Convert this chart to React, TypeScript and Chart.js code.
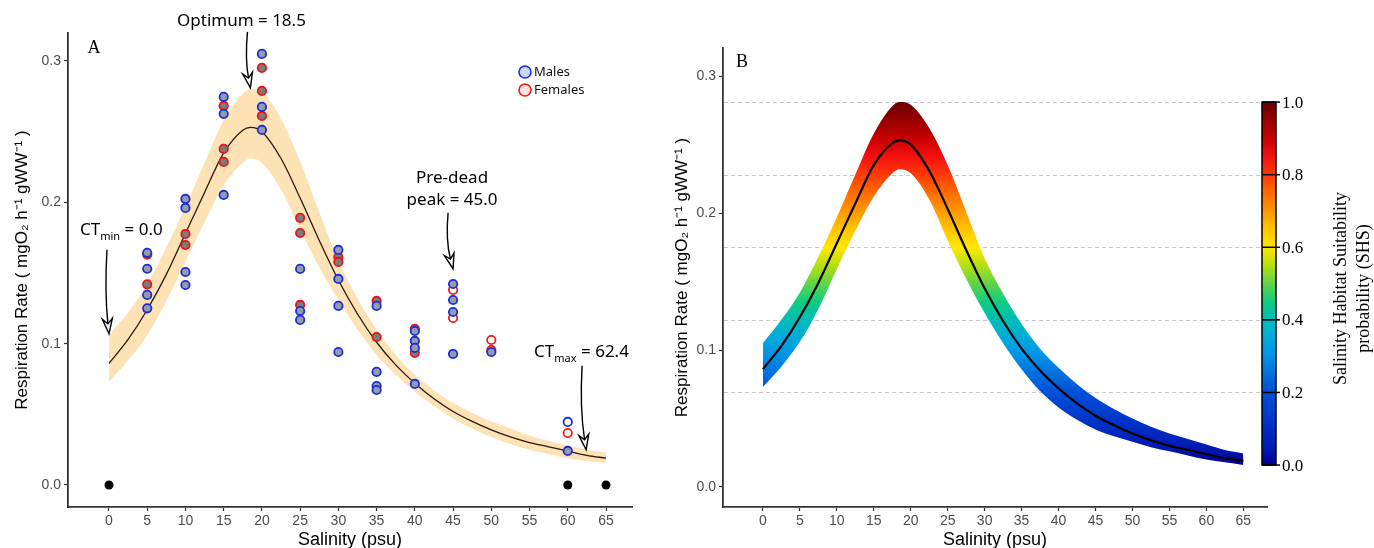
import React, { useEffect, useRef } from 'react';
import { Chart, registerables } from 'chart.js';

Chart.register(...registerables);

// ---------------- data ----------------
const salinityGrid = [0, 2.5, 5, 7.5, 10, 12.5, 15, 17.5, 18.5, 20, 22.5, 25, 27.5, 30, 32.5, 35, 37.5, 40, 42.5, 45, 47.5, 50, 52.5, 55, 57.5, 60, 62.5, 65];
const fitRate = [0.086, 0.103, 0.124, 0.149, 0.178, 0.207, 0.235, 0.251, 0.253, 0.25, 0.231, 0.203, 0.173, 0.145, 0.121, 0.101, 0.085, 0.072, 0.061, 0.052, 0.045, 0.039, 0.034, 0.03, 0.027, 0.024, 0.021, 0.019];
// panel A confidence band
const fitUpper = [0.106, 0.122, 0.142, 0.168, 0.197, 0.228, 0.258, 0.277, 0.28, 0.278, 0.259, 0.229, 0.193, 0.159, 0.132, 0.11, 0.092, 0.078, 0.067, 0.058, 0.051, 0.045, 0.04, 0.035, 0.031, 0.028, 0.025, 0.023];
const fitLower = [0.073, 0.088, 0.106, 0.13, 0.158, 0.186, 0.212, 0.228, 0.231, 0.228, 0.209, 0.181, 0.154, 0.131, 0.11, 0.092, 0.078, 0.066, 0.056, 0.047, 0.04, 0.034, 0.029, 0.025, 0.022, 0.019, 0.017, 0.0155];
// panel B suitability band
const shsUpper = [0.105, 0.122, 0.142, 0.168, 0.197, 0.228, 0.258, 0.278, 0.281, 0.279, 0.262, 0.235, 0.201, 0.167, 0.141, 0.119, 0.101, 0.087, 0.075, 0.065, 0.057, 0.05, 0.044, 0.039, 0.035, 0.031, 0.027, 0.0245];
const shsLower = [0.073, 0.088, 0.106, 0.13, 0.159, 0.187, 0.212, 0.229, 0.232, 0.229, 0.21, 0.18, 0.152, 0.127, 0.105, 0.086, 0.07, 0.058, 0.049, 0.042, 0.037, 0.033, 0.029, 0.026, 0.023, 0.02, 0.018, 0.016];

const maleSalinity = [5, 5, 5, 5, 10, 10, 10, 10, 15, 15, 15, 20, 20, 20, 25, 25, 25, 30, 30, 30, 30, 35, 35, 35, 35, 40, 40, 40, 40, 45, 45, 45, 45, 50, 60];
const maleRate = [0.1643, 0.153, 0.1345, 0.125, 0.2024, 0.196, 0.1507, 0.1415, 0.2746, 0.2626, 0.2052, 0.305, 0.2675, 0.2512, 0.1529, 0.1231, 0.1168, 0.1663, 0.1458, 0.1267, 0.0941, 0.1267, 0.08, 0.07, 0.0672, 0.109, 0.1019, 0.097, 0.0715, 0.1422, 0.1309, 0.1224, 0.0927, 0.0941, 0.0241];
const maleOpenSalinity = [60];
const maleOpenRate = [0.0446];

const femaleSalinity = [5, 5, 10, 10, 15, 15, 15, 20, 20, 20, 25, 25, 25, 30, 30, 35, 35, 40, 40];
const femaleRate = [0.163, 0.142, 0.1776, 0.1698, 0.2682, 0.2378, 0.2286, 0.2951, 0.2788, 0.2611, 0.189, 0.1783, 0.1274, 0.1614, 0.1578, 0.1302, 0.1047, 0.1104, 0.0934];
const femaleOpenSalinity = [45, 45, 50, 50, 60];
const femaleOpenRate = [0.138, 0.1182, 0.1026, 0.0955, 0.0368];

const deadSalinity = [0, 60, 65];
const deadRate = [0, 0, 0];

const xTickValues = [0, 5, 10, 15, 20, 25, 30, 35, 40, 45, 50, 55, 60, 65];
const yTickValues = [0, 0.1, 0.2, 0.3];
const shsTickValues = [0, 0.2, 0.4, 0.6, 0.8, 1.0];
const shsGridValues = [0.2, 0.4, 0.6, 0.8, 1.0];

const noteSalinity = [18.5, 0, 45, 62.4];
const noteRate = [0.281, 0.107, 0.153, 0.025];

// ---------------- styles ----------------
const FONT_SANS = '"Liberation Sans", Arial, sans-serif';
const FONT_NOTE = '"Noto Sans", "Open Sans", sans-serif';
const FONT_SERIF = '"Liberation Serif", "Times New Roman", serif';
const AXIS = '#333333';
const TICK_TEXT = '#4d4d4d';
const Y_TITLE = 'Respiration Rate ( mgO\u2082 h\u207B\u00B9 gWW\u207B\u00B9 )';

const jetStops: [number, string][] = [
  [0.0, '#00008f'],
  [0.04, '#0016b0'],
  [0.1, '#002cc4'],
  [0.2, '#0050d8'],
  [0.25, '#006ede'],
  [0.3, '#0092e6'],
  [0.35, '#00aadc'],
  [0.4, '#00bdb8'],
  [0.45, '#10cc80'],
  [0.5, '#60d448'],
  [0.55, '#b4e010'],
  [0.6, '#ffe600'],
  [0.65, '#ffc400'],
  [0.7, '#ff9800'],
  [0.75, '#ff6c00'],
  [0.8, '#ff3a0a'],
  [0.85, '#f41010'],
  [0.9, '#c80000'],
  [1.0, '#6a0000'],
];

const pts = (xs: number[], ys: number[]) => xs.map((x, i) => ({ x, y: ys[i] }));

function xScale(min: number, max: number) {
  return {
    type: 'linear' as const,
    min,
    max,
    afterBuildTicks: (s: any) => {
      s.ticks = xTickValues.map((v) => ({ value: v }));
    },
    afterFit: (s: any) => {
      s.height = 41;
    },
    grid: { drawOnChartArea: false, drawTicks: true, tickLength: 4, tickColor: AXIS, tickWidth: 1.2 },
    border: { display: true, color: AXIS, width: 1.8 },
    ticks: {
      color: TICK_TEXT,
      font: { family: FONT_SANS, size: 14 },
      padding: 2,
      maxRotation: 0,
      autoSkip: false,
      callback: (v: any) => String(v),
    },
    title: {
      display: true,
      text: 'Salinity (psu)',
      color: '#000',
      font: { family: FONT_SANS, size: 18 },
      padding: { top: 0, bottom: -3 },
    },
  };
}

function yScale(min: number, max: number, width: number) {
  return {
    type: 'linear' as const,
    min,
    max,
    afterBuildTicks: (s: any) => {
      s.ticks = yTickValues.map((v) => ({ value: v }));
    },
    afterFit: (s: any) => {
      s.width = width;
    },
    grid: { drawOnChartArea: false, drawTicks: true, tickLength: 4, tickColor: AXIS, tickWidth: 1.2 },
    border: { display: true, color: AXIS, width: 1.8 },
    ticks: {
      color: TICK_TEXT,
      font: { family: FONT_SANS, size: 14 },
      padding: 3,
      callback: (v: any) => Number(v).toFixed(1),
    },
    title: {
      display: true,
      text: Y_TITLE,
      color: '#000',
      font: { family: FONT_SANS, size: 17 },
      padding: { top: 12, bottom: 0 },
    },
  };
}

function drawArrow(ctx: CanvasRenderingContext2D, sx: number, sy: number, tx: number, ty: number) {
  const cx = sx - 2.5;
  const cy = (sy + ty) / 2;
  const ang = Math.atan2(ty - cy, tx - cx);
  const L = 15;
  const W = 5;
  const N = 10;
  const ux = Math.cos(ang);
  const uy = Math.sin(ang);
  const px = -uy;
  const py = ux;
  const bx = tx - ux * N;
  const by = ty - uy * N;
  ctx.save();
  ctx.strokeStyle = '#000';
  ctx.lineWidth = 1.4;
  ctx.beginPath();
  ctx.moveTo(sx, sy);
  ctx.quadraticCurveTo(cx, cy, bx, by);
  ctx.stroke();
  ctx.beginPath();
  ctx.moveTo(tx, ty);
  ctx.lineTo(tx - ux * L + px * W, ty - uy * L + py * W);
  ctx.lineTo(bx, by);
  ctx.lineTo(tx - ux * L - px * W, ty - uy * L - py * W);
  ctx.closePath();
  ctx.fillStyle = '#fff';
  ctx.fill();
  ctx.stroke();
  ctx.restore();
}

function drawSubText(ctx: CanvasRenderingContext2D, x: number, base: number, main: string, sub: string, rest: string) {
  ctx.textAlign = 'left';
  ctx.textBaseline = 'alphabetic';
  ctx.font = `17px ${FONT_NOTE}`;
  ctx.fillText(main, x, base);
  let w = ctx.measureText(main).width;
  ctx.font = `11px ${FONT_NOTE}`;
  ctx.fillText(sub, x + w, base + 5);
  w += ctx.measureText(sub).width;
  ctx.font = `17px ${FONT_NOTE}`;
  ctx.fillText(rest, x + w, base);
}

const annotationsPlugin = {
  id: 'annotA',
  afterDatasetsDraw(chart: any) {
    const { ctx, scales, chartArea } = chart;
    const tip = (i: number) => ({ x: scales.x.getPixelForValue(noteSalinity[i]), y: scales.y.getPixelForValue(noteRate[i]) });
    ctx.save();
    ctx.fillStyle = '#000';
    // Optimum
    let t = tip(0);
    drawArrow(ctx, t.x - 3, t.y - 56, t.x, t.y);
    ctx.font = `17px ${FONT_NOTE}`;
    ctx.textAlign = 'center';
    ctx.textBaseline = 'alphabetic';
    ctx.fillText('Optimum = 18.5', t.x - 9, t.y - 62);
    // CTmin
    t = tip(1);
    drawArrow(ctx, t.x - 2, t.y - 84, t.x, t.y);
    drawSubText(ctx, t.x - 29, t.y - 99, 'CT', 'min', ' = 0.0');
    // Pre-dead peak
    t = tip(2);
    drawArrow(ctx, t.x - 5, t.y - 56, t.x, t.y);
    ctx.font = `17px ${FONT_NOTE}`;
    ctx.textAlign = 'center';
    ctx.fillText('Pre-dead', t.x - 1, t.y - 86);
    ctx.fillText('peak = 45.0', t.x - 1, t.y - 64);
    // CTmax
    t = tip(3);
    drawArrow(ctx, t.x - 4, t.y - 84, t.x, t.y);
    drawSubText(ctx, t.x - 52, t.y - 93, 'CT', 'max', ' = 62.4');

    // panel letter
    ctx.font = `18px ${FONT_SERIF}`;
    ctx.textAlign = 'center';
    ctx.textBaseline = 'middle';
    ctx.fillText('A', chartArea.left + 26, chartArea.top + 15);

    // legend
    const lx = chartArea.right - 107;
    const items = [
      { label: 'Males', stroke: '#1a2fd6', fill: '#c9d8f2', y: chartArea.top + 39 },
      { label: 'Females', stroke: '#ee1c1c', fill: '#fde0d8', y: chartArea.top + 57 },
    ];
    items.forEach((it) => {
      ctx.beginPath();
      ctx.arc(lx, it.y, 6, 0, Math.PI * 2);
      ctx.fillStyle = it.fill;
      ctx.fill();
      ctx.lineWidth = 1.6;
      ctx.strokeStyle = it.stroke;
      ctx.stroke();
      ctx.fillStyle = '#111';
      ctx.font = `13px ${FONT_NOTE}`;
      ctx.textAlign = 'left';
      ctx.textBaseline = 'middle';
      ctx.fillText(it.label, lx + 9, it.y + 0.5);
    });
    ctx.restore();
  },
};

const shsMin = Math.min(...shsLower);
const shsMax = Math.max(...shsUpper);
const shsToRate = (s: number) => shsMin + s * (shsMax - shsMin);

function makeJet(ctx: CanvasRenderingContext2D, yBottom: number, yTop: number) {
  const g = ctx.createLinearGradient(0, yBottom, 0, yTop);
  jetStops.forEach(([s, c]) => g.addColorStop(s, c));
  return g;
}

const gridBPlugin = {
  id: 'gridB',
  beforeDatasetsDraw(chart: any) {
    const { ctx, scales, chartArea } = chart;
    ctx.save();
    ctx.strokeStyle = '#c8c8c8';
    ctx.lineWidth = 1;
    ctx.setLineDash([4, 3]);
    shsGridValues.forEach((s) => {
      const y = Math.round(scales.y.getPixelForValue(shsToRate(s))) + 0.5;
      ctx.beginPath();
      ctx.moveTo(chartArea.left + 1, y);
      ctx.lineTo(chartArea.right - 5, y);
      ctx.stroke();
    });
    ctx.restore();
  },
  afterDatasetsDraw(chart: any) {
    const { ctx, scales, chartArea } = chart;
    const x0 = chartArea.right - 5;
    const w = 14;
    const yTop = scales.y.getPixelForValue(shsMax);
    const yBot = scales.y.getPixelForValue(shsMin);
    ctx.save();
    ctx.fillStyle = makeJet(ctx, yBot, yTop);
    ctx.fillRect(x0, yTop, w, yBot - yTop);
    ctx.strokeStyle = '#000';
    ctx.lineWidth = 1.5;
    ctx.strokeRect(x0, yTop, w, yBot - yTop);
    ctx.font = `17px ${FONT_SERIF}`;
    ctx.fillStyle = '#000';
    ctx.textAlign = 'left';
    ctx.textBaseline = 'middle';
    shsTickValues.forEach((s) => {
      const y = scales.y.getPixelForValue(shsToRate(s));
      ctx.beginPath();
      ctx.moveTo(x0, y);
      ctx.lineTo(x0 + w + 4, y);
      ctx.stroke();
      ctx.fillText(s.toFixed(1), x0 + w + 6, y + 1);
    });
    // colorbar title
    const cy = (yTop + yBot) / 2 + 5;
    ctx.save();
    ctx.translate(x0 + 90, cy);
    ctx.rotate(-Math.PI / 2);
    ctx.textAlign = 'center';
    ctx.textBaseline = 'middle';
    ctx.font = `18px ${FONT_SERIF}`;
    ctx.fillText('Salinity Habitat Suitability', 0, -11);
    ctx.fillText('probability (SHS)', 0, 12);
    ctx.restore();

    ctx.font = `18px ${FONT_SERIF}`;
    ctx.textAlign = 'center';
    ctx.textBaseline = 'middle';
    ctx.fillText('B', chartArea.left + 19, chartArea.top + 14);
    ctx.restore();
  },
};

function PanelA() {
  const ref = useRef<HTMLCanvasElement>(null);
  useEffect(() => {
    if (!ref.current) return;
    const pointCommon = { type: 'scatter' as const, pointRadius: 4.2, pointBorderWidth: 1.8, showLine: false };
    const chart = new Chart(ref.current, {
      type: 'scatter',
      data: {
        datasets: [
          {
            type: 'line',
            data: pts(salinityGrid, fitUpper),
            fill: 1,
            backgroundColor: '#fde2b6',
            borderWidth: 0,
            pointRadius: 0,
            cubicInterpolationMode: 'monotone',
            order: 20,
          },
          {
            type: 'line',
            data: pts(salinityGrid, fitLower),
            fill: false,
            borderWidth: 0,
            pointRadius: 0,
            cubicInterpolationMode: 'monotone',
            order: 21,
          },
          {
            type: 'line',
            data: pts(salinityGrid, fitRate),
            fill: false,
            borderColor: '#2a1a0c',
            borderWidth: 1.3,
            pointRadius: 0,
            cubicInterpolationMode: 'monotone',
            order: 10,
          },
          { ...pointCommon, data: pts(femaleOpenSalinity, femaleOpenRate), borderColor: '#ee1c1c', backgroundColor: '#ffffff', order: 4 },
          { ...pointCommon, data: pts(femaleSalinity, femaleRate), borderColor: '#e8141a', backgroundColor: '#7b7b7b', order: 3 },
          { ...pointCommon, data: pts(maleOpenSalinity, maleOpenRate), borderColor: '#1a2fd6', backgroundColor: '#ffffff', order: 2 },
          { ...pointCommon, data: pts(maleSalinity, maleRate), borderColor: '#1a2fd6', backgroundColor: '#959aac', order: 1 },
          { ...pointCommon, data: pts(deadSalinity, deadRate), borderColor: '#000', backgroundColor: '#000', pointRadius: 4.5, pointBorderWidth: 0, order: 0 },
        ] as any,
      },
      options: {
        responsive: false,
        animation: false,
        devicePixelRatio: 1,
        layout: { padding: { left: 0, right: 28, top: 33, bottom: 0 } },
        plugins: { legend: { display: false }, tooltip: { enabled: false } },
        scales: {
          x: xScale(-5.36, 68.4),
          y: yScale(-0.01557, 0.3198, 68),
        } as any,
      },
      plugins: [annotationsPlugin],
    });
    return () => chart.destroy();
  }, []);
  return <canvas ref={ref} width={660} height={548} style={{ position: 'absolute', left: 0, top: 0, width: 660, height: 548 }} />;
}

function PanelB() {
  const ref = useRef<HTMLCanvasElement>(null);
  useEffect(() => {
    if (!ref.current) return;
    const chart = new Chart(ref.current, {
      type: 'line',
      data: {
        datasets: [
          {
            data: pts(salinityGrid, shsUpper),
            fill: 1,
            backgroundColor: (c: any) => {
              const ch = c.chart;
              if (!ch.chartArea || !ch.scales.y) return 'rgba(0,0,0,0)';
              return makeJet(ch.ctx, ch.scales.y.getPixelForValue(shsMin), ch.scales.y.getPixelForValue(shsMax));
            },
            borderWidth: 0,
            pointRadius: 0,
            cubicInterpolationMode: 'monotone',
            order: 20,
          },
          {
            data: pts(salinityGrid, shsLower),
            fill: false,
            borderWidth: 0,
            pointRadius: 0,
            cubicInterpolationMode: 'monotone',
            order: 21,
          },
          {
            data: pts(salinityGrid, fitRate),
            fill: false,
            borderColor: '#000',
            borderWidth: 2.2,
            pointRadius: 0,
            cubicInterpolationMode: 'monotone',
            order: 10,
          },
        ] as any,
      },
      options: {
        responsive: false,
        animation: false,
        devicePixelRatio: 1,
        layout: { padding: { left: 0, right: 107, top: 48, bottom: 0 } },
        plugins: { legend: { display: false }, tooltip: { enabled: false } },
        scales: {
          x: xScale(-5.4, 68.2),
          y: yScale(-0.01463, 0.3205, 63),
        } as any,
      },
      plugins: [gridBPlugin],
    });
    return () => chart.destroy();
  }, []);
  return <canvas ref={ref} width={714} height={548} style={{ position: 'absolute', left: 660, top: 0, width: 714, height: 548 }} />;
}

export default function App() {
  return (
    <div style={{ position: 'absolute', left: 0, top: 0, width: 1374, height: 548, background: '#fff', overflow: 'hidden' }}>
      <PanelA />
      <PanelB />
    </div>
  );
}
